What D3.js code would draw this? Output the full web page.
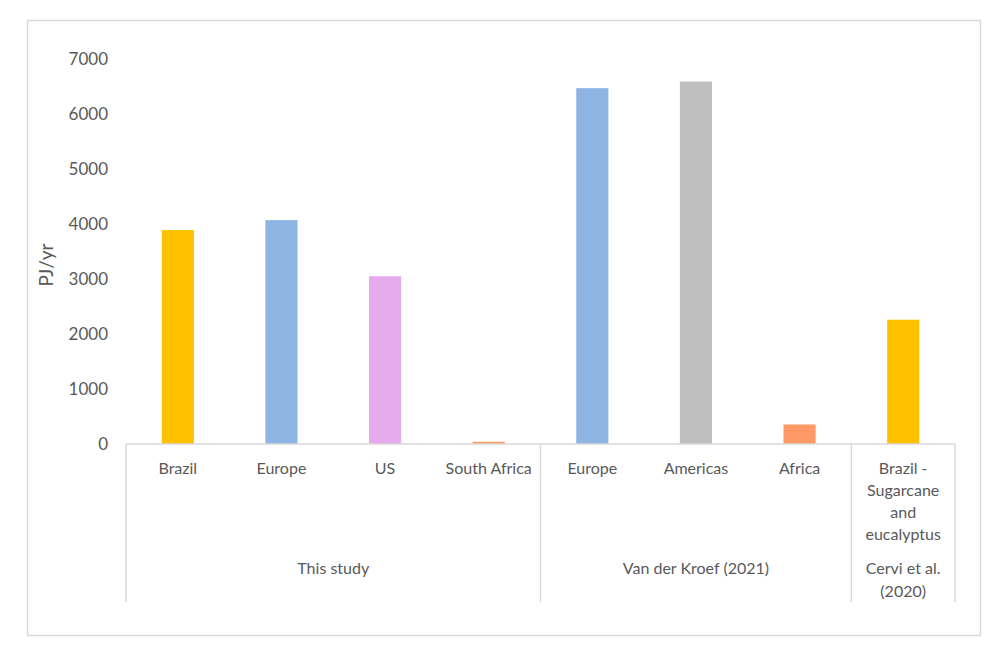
<!DOCTYPE html>
<html>
<head>
<meta charset="utf-8">
<script src="https://cdn.jsdelivr.net/npm/d3@7"></script>
<style>
  body { margin: 0; background: #fff; }
  text { font-family: Lato, "Open Sans", sans-serif; fill: #595959; }
</style>
</head>
<body>
<svg id="chart" width="1008" height="655"></svg>
<script>
// data
const categories = ["Brazil", "Europe", "US", "South Africa", "Europe", "Americas", "Africa", "Brazil - Sugarcane and eucalyptus"];
const catLines = [["Brazil"], ["Europe"], ["US"], ["South Africa"], ["Europe"], ["Americas"], ["Africa"], ["Brazil -", "Sugarcane", "and", "eucalyptus"]];
const values = [3890, 4070, 3050, 40, 6470, 6590, 355, 2260];
const colors = ["#FFC000", "#8EB4E3", "#E6A9EC", "#FF9966", "#8EB4E3", "#BFBFBF", "#FF9966", "#FFC000"];
const groups = [["This study"], ["Van der Kroef (2021)"], ["Cervi et al.", "(2020)"]];
const groupSpans = [[0, 3], [4, 6], [7, 7]];
const yTicks = [0, 1000, 2000, 3000, 4000, 5000, 6000, 7000];

const svg = d3.select("#chart");

// outer frame
svg.append("rect")
    .attr("x", 27.5).attr("y", 20.5)
    .attr("width", 953).attr("height", 615)
    .attr("fill", "none").attr("stroke", "#D9D9D9").attr("stroke-width", 1.5);

const plotLeft = 126, plotRight = 955, plotTop = 59, plotBottom = 444;

const x = d3.scaleBand()
    .domain(d3.range(categories.length))
    .range([plotLeft, plotRight])
    .padding(0);
const y = d3.scaleLinear().domain([0, 7000]).range([plotBottom, plotTop]);

const barW = x.bandwidth() * 0.31;

// y tick labels (no axis line)
svg.append("g")
    .selectAll("text")
    .data(yTicks)
    .join("text")
    .attr("x", 108)
    .attr("y", d => y(d))
    .attr("dy", "0.35em")
    .attr("text-anchor", "end")
    .style("font-size", "17px")
    .text(d => d);

svg.append("text")
    .attr("transform", `translate(46, 265) rotate(-90)`)
    .attr("text-anchor", "middle")
    .attr("dy", "0.35em")
    .style("font-size", "19px")
    .text("PJ/yr");

// bars
svg.append("g")
    .selectAll("rect")
    .data(values)
    .join("rect")
    .attr("x", (d, i) => x(i) + x.bandwidth() / 2 - barW / 2)
    .attr("y", d => y(d))
    .attr("width", barW)
    .attr("height", d => plotBottom - y(d))
    .attr("fill", (d, i) => colors[i]);

// axis lines
const axisG = svg.append("g")
    .attr("stroke", "#D9D9D9").attr("stroke-width", 1.5);
axisG.append("line")
    .attr("x1", plotLeft).attr("x2", plotRight)
    .attr("y1", plotBottom).attr("y2", plotBottom);
const seps = [0, 4, 7, 8].map(i => i < categories.length ? x(i) : plotRight);
axisG.selectAll("line.sep")
    .data(seps)
    .join("line")
    .attr("class", "sep")
    .attr("x1", d => d).attr("x2", d => d)
    .attr("y1", plotBottom).attr("y2", 602);

// category labels
svg.append("g")
    .selectAll("text")
    .data(catLines)
    .join("text")
    .attr("text-anchor", "middle")
    .style("font-size", "16px")
    .each(function (lines, i) {
        d3.select(this).selectAll("tspan")
            .data(lines)
            .join("tspan")
            .attr("x", x(i) + x.bandwidth() / 2)
            .attr("y", (l, j) => 468 + j * 22.2)
            .attr("dy", "0.35em")
            .text(l => l);
    });

// group labels
svg.append("g")
    .selectAll("text")
    .data(groups)
    .join("text")
    .attr("text-anchor", "middle")
    .style("font-size", "16px")
    .each(function (lines, i) {
        const span = groupSpans[i];
        const cx = (x(span[0]) + x(span[1]) + x.bandwidth()) / 2;
        d3.select(this).selectAll("tspan")
            .data(lines)
            .join("tspan")
            .attr("x", cx)
            .attr("y", (l, j) => 568 + j * 23)
            .attr("dy", "0.35em")
            .text(l => l);
    });
</script>
</body>
</html>
